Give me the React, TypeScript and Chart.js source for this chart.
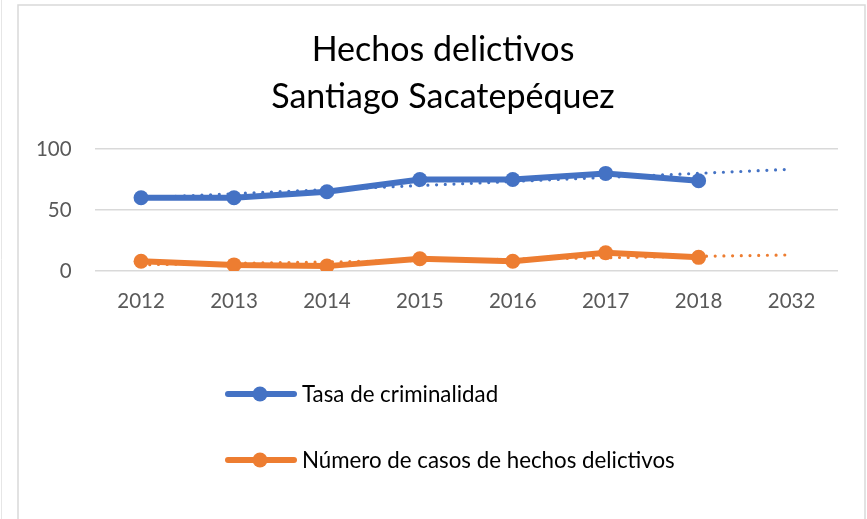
import React, { useEffect, useRef } from "react";
import { Chart, registerables } from "chart.js";

Chart.register(...registerables);

const categories = ["2012", "2013", "2014", "2015", "2016", "2017", "2018", "2032"];
const tasaCriminalidad = [60, 60, 65, 75, 75, 80, 74, null];
const numeroCasos = [8, 5, 4, 10, 8, 15, 11.2, null];
const tendenciaTasa = [60, null, null, null, null, null, null, 83.4];
const tendenciaCasos = [5.1, null, null, null, null, null, null, 13.2];
const yTicks = [0, 50, 100];
const titleLines = ["Hechos delictivos", "Santiago Sacatepéquez"];
const seriesNames = ["Tasa de criminalidad", "Número de casos de hechos delictivos"];

const BLUE = "#4472C4";
const ORANGE = "#ED7D31";
const FONT = "Lato";

const framePlugin = {
  id: "frame",
  beforeDraw(chart: any) {
    const ctx = chart.ctx;
    ctx.save();
    ctx.fillStyle = "#ffffff";
    ctx.fillRect(0, 0, chart.width, chart.height);
    ctx.strokeStyle = "#d9d9d9";
    ctx.lineWidth = 1.5;
    ctx.strokeRect(18, 5, 847, 540);
    ctx.strokeStyle = "#e6e6e6";
    ctx.lineWidth = 1;
    ctx.beginPath();
    ctx.moveTo(1.5, 0);
    ctx.lineTo(1.5, chart.height);
    ctx.stroke();
    ctx.restore();
  },
};

const titlePlugin = {
  id: "frameTitle",
  afterDraw(chart: any) {
    const ctx = chart.ctx;
    ctx.save();
    ctx.fillStyle = "#000000";
    ctx.font = `34px ${FONT}`;
    ctx.textAlign = "center";
    ctx.textBaseline = "middle";
    const cx = 443;
    titleLines.forEach((line, i) => {
      ctx.fillText(line, cx, 50 + i * 47);
    });
    ctx.restore();
  },
};

const legendPlugin = {
  id: "stackedLegend",
  afterDraw(chart: any) {
    const ctx = chart.ctx;
    const rows = [394, 460];
    ctx.save();
    seriesNames.forEach((name, i) => {
      const ds = chart.data.datasets[i];
      const y = rows[i];
      ctx.strokeStyle = ds.borderColor;
      ctx.lineWidth = 6;
      ctx.lineCap = "round";
      ctx.beginPath();
      ctx.moveTo(228, y);
      ctx.lineTo(294, y);
      ctx.stroke();
      ctx.fillStyle = ds.borderColor;
      ctx.beginPath();
      ctx.arc(260, y, 7.5, 0, Math.PI * 2);
      ctx.fill();
      ctx.fillStyle = "#000000";
      ctx.font = `22.3px ${FONT}`;
      ctx.textAlign = "left";
      ctx.textBaseline = "middle";
      ctx.fillText(name, 302, y + 1);
    });
    ctx.restore();
  },
};

export default function App() {
  const canvasRef = useRef<HTMLCanvasElement | null>(null);

  useEffect(() => {
    if (!canvasRef.current) return;
    const chart = new Chart(canvasRef.current, {
      type: "line",
      data: {
        labels: categories,
        datasets: [
          {
            label: seriesNames[0],
            data: tasaCriminalidad,
            borderColor: BLUE,
            backgroundColor: BLUE,
            borderWidth: 6,
            pointRadius: 7.5,
            pointHoverRadius: 7.5,
            pointBorderWidth: 0,
            tension: 0,
          },
          {
            label: seriesNames[1],
            data: numeroCasos,
            borderColor: ORANGE,
            backgroundColor: ORANGE,
            borderWidth: 6,
            pointRadius: 7.5,
            pointHoverRadius: 7.5,
            pointBorderWidth: 0,
            tension: 0,
          },
          {
            label: "Lineal (" + seriesNames[0] + ")",
            data: tendenciaTasa,
            borderColor: BLUE,
            borderWidth: 3.2,
            borderDash: [0, 8.7],
            borderCapStyle: "round",
            pointRadius: 0,
            spanGaps: true,
          },
          {
            label: "Lineal (" + seriesNames[1] + ")",
            data: tendenciaCasos,
            borderColor: ORANGE,
            borderWidth: 3.2,
            borderDash: [0, 8.7],
            borderCapStyle: "round",
            pointRadius: 0,
            spanGaps: true,
          },
        ],
      },
      options: {
        responsive: true,
        maintainAspectRatio: false,
        animation: false,
        layout: { padding: { left: 0, right: 29, top: 149, bottom: 188 } },
        plugins: {
          legend: { display: false },
          tooltip: { enabled: false },
          title: { display: false },
        },
        scales: {
          x: {
            type: "category",
            offset: true,
            grid: { display: false, drawTicks: false },
            border: { display: false },
            ticks: {
              color: "#595959",
              font: { family: FONT, size: 20.5 },
              padding: 18,
              maxRotation: 0,
            },
            afterFit: (scale: any) => {
              scale.height = 60;
            },
          },
          y: {
            min: 0,
            max: 100,
            afterBuildTicks: (scale: any) => {
              scale.ticks = yTicks.map((v) => ({ value: v }));
            },
            grid: { color: "#d9d9d9", lineWidth: 1.5, drawTicks: false },
            border: { display: false },
            ticks: {
              color: "#595959",
              font: { family: FONT, size: 20.5 },
              padding: 23,
            },
            afterFit: (scale: any) => {
              scale.width = 94.6;
            },
          },
        },
      },
      plugins: [framePlugin, titlePlugin, legendPlugin],
    });
    return () => chart.destroy();
  }, []);

  return (
    <div style={{ position: "absolute", left: 0, top: 0, width: 867, height: 519 }}>
      <canvas ref={canvasRef} />
    </div>
  );
}
